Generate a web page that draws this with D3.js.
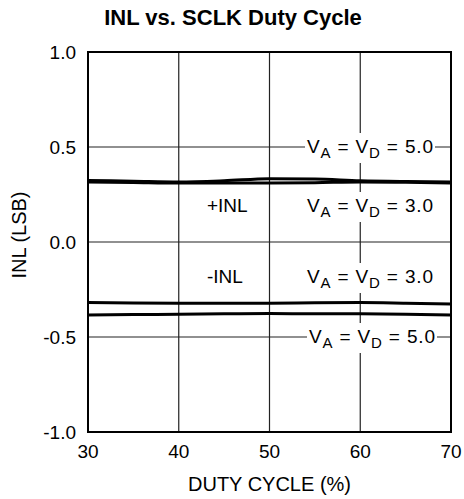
<!DOCTYPE html>
<html>
<head>
<meta charset="utf-8">
<script src="https://cdn.jsdelivr.net/npm/d3@7"></script>
<style>
  html, body { margin: 0; padding: 0; background: #fff; }
  text { font-family: "Liberation Sans", Arial, Helvetica, sans-serif; fill: #000; }
</style>
</head>
<body>
<script>
// duty cycle (%) on x, INL (LSB) on y
const duty = [30, 35, 40, 45, 50, 55, 60, 65, 70];
const inlPos5 = [0.324, 0.320, 0.316, 0.322, 0.333, 0.331, 0.322, 0.318, 0.316];
const inlPos3 = [0.316, 0.313, 0.310, 0.310, 0.310, 0.312, 0.316, 0.314, 0.311];
const inlNeg3 = [-0.319, -0.321, -0.322, -0.322, -0.322, -0.320, -0.319, -0.322, -0.326];
const inlNeg5 = [-0.384, -0.382, -0.380, -0.378, -0.376, -0.378, -0.378, -0.380, -0.384];

const xTicks = [30, 40, 50, 60, 70];
const yTicks = [-1.0, -0.5, 0.0, 0.5, 1.0];

const width = 464, height = 499;
const margin = { top: 52, right: 13, bottom: 67, left: 88 };

const svg = d3.select("body").append("svg")
  .attr("width", width)
  .attr("height", height);

const x = d3.scaleLinear().domain([30, 70]).range([margin.left, width - margin.right]);
const y = d3.scaleLinear().domain([-1, 1]).range([height - margin.bottom, margin.top]);

// title
svg.append("text")
  .attr("x", 233).attr("y", 25)
  .attr("text-anchor", "middle")
  .style("font-size", "22px").style("font-weight", "bold")
  .text("INL vs. SCLK Duty Cycle");

// grid
const grid = svg.append("g").attr("stroke", "#222").attr("stroke-width", 1.2);
grid.selectAll(".vx").data(xTicks.slice(1, -1)).enter().append("line")
  .attr("x1", d => x(d)).attr("x2", d => x(d))
  .attr("y1", y(1)).attr("y2", y(-1));
grid.selectAll(".hy").data(yTicks.slice(1, -1)).enter().append("line")
  .attr("x1", x(30)).attr("x2", x(70))
  .attr("y1", d => y(d)).attr("y2", d => y(d));

// tick labels (plain hyphen for negatives, like the datasheet)
svg.append("g").selectAll("text").data(yTicks).enter().append("text")
  .attr("x", margin.left - 12).attr("y", d => y(d))
  .attr("dy", "0.36em")
  .attr("text-anchor", "end")
  .style("font-size", "19px")
  .text(d => d.toFixed(1));

svg.append("g").selectAll("text").data(xTicks).enter().append("text")
  .attr("x", d => x(d)).attr("y", y(-1) + 26)
  .attr("text-anchor", "middle")
  .style("font-size", "19px")
  .text(d => d);

// axis titles
svg.append("text")
  .attr("x", x(50)).attr("y", 491)
  .attr("text-anchor", "middle")
  .style("font-size", "20px")
  .text("DUTY CYCLE (%)");

svg.append("text")
  .attr("transform", "translate(26," + (y(0) - 7) + ") rotate(-90)")
  .attr("text-anchor", "middle")
  .style("font-size", "20px")
  .text("INL (LSB)");

// curves
const line = d3.line()
  .x((d, i) => x(duty[i]))
  .y(d => y(d))
  .curve(d3.curveMonotoneX);

svg.append("g").selectAll("path")
  .data([inlPos5, inlPos3, inlNeg3, inlNeg5])
  .enter().append("path")
  .attr("d", line)
  .attr("fill", "none")
  .attr("stroke", "#000")
  .attr("stroke-width", 3);

// annotations
function vLabel(cx, by, val) {
  const g = svg.append("g");
  const bg = g.append("rect").attr("fill", "#fff");
  const t = g.append("text")
    .attr("x", cx).attr("y", by)
    .attr("text-anchor", "middle")
    .style("font-size", "19px");
  t.append("tspan").text("V");
  t.append("tspan").attr("dy", 5).style("font-size", "15px").text("A");
  t.append("tspan").attr("dy", -5).text(" = V");
  t.append("tspan").attr("dy", 5).style("font-size", "15px").text("D");
  t.append("tspan").attr("dy", -5).text(" = " + val);
  t.attr("textLength", 126).attr("lengthAdjust", "spacing");
  const b = t.node().getBBox();
  bg.attr("x", b.x - 2).attr("y", b.y - 3)
    .attr("width", b.width + 4).attr("height", b.height + 5);
}

vLabel(370, y(0.5) + 6, "5.0");
vLabel(370, 212, "3.0");
vLabel(370, 283, "3.0");
vLabel(372, y(-0.5) + 6, "5.0");

svg.append("text").attr("x", 207).attr("y", 212).style("font-size", "19px").text("+INL");
svg.append("text").attr("x", 207).attr("y", 283).style("font-size", "19px").text("-INL");

// plot frame
svg.append("rect")
  .attr("x", x(30)).attr("y", y(1))
  .attr("width", x(70) - x(30)).attr("height", y(-1) - y(1))
  .attr("fill", "none").attr("stroke", "#000").attr("stroke-width", 2);
</script>
</body>
</html>
